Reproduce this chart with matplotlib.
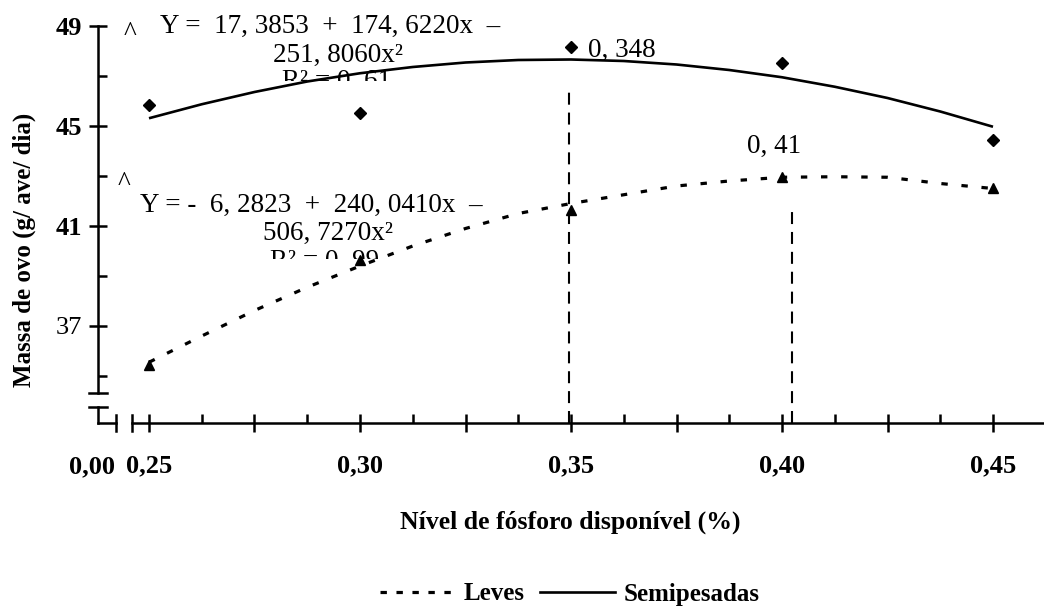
import numpy as np
import matplotlib
matplotlib.use('Agg')
import matplotlib.pyplot as plt
from matplotlib.lines import Line2D
from matplotlib.transforms import Bbox, TransformedBbox

# observed means
niveis = [0.25, 0.30, 0.35, 0.40, 0.45]
semipesadas = [45.84, 45.52, 48.16, 47.52, 44.44]
leves = [35.44, 39.64, 41.64, 42.96, 42.52]

# regression curves
x_curva = [0.25, 0.2625, 0.275, 0.2875, 0.30, 0.3125, 0.325, 0.3375, 0.35,
           0.3625, 0.375, 0.3875, 0.40, 0.4125, 0.425, 0.4375, 0.45]
curva_semi = [45.31, 45.87, 46.36, 46.78, 47.11, 47.36, 47.54, 47.64, 47.66,
              47.60, 47.46, 47.24, 46.95, 46.57, 46.12, 45.58, 44.97]
curva_leves = [35.55, 36.60, 37.62, 38.55, 39.40, 40.20, 40.90, 41.50, 41.90,
               42.25, 42.60, 42.80, 42.95, 42.97, 42.95, 42.70, 42.50]

# optimum levels (dashed markers)
otimo_x = [0.3495, 0.4024]
otimo_topo = [46.56, 41.64]

yticks_lab = [49, 45, 41, 37]

W, H = 1044, 607
serif = ['Liberation Serif', 'DejaVu Serif']
plt.rcParams['font.family'] = serif

fig = plt.figure(figsize=(W / 100, H / 100), dpi=100)
ax = fig.add_axes([98 / W, 1 - 423 / H, (W - 98) / W, 397 / H])
ax.set_xlim(0.25 - 51 / 4220, 0.25 + (W - 149) / 4220)
ax.set_ylim(33.12, 49)


def px(x, y):
    return x / W, 1 - y / H


ax.plot(x_curva, curva_semi, color='black', lw=1.9, solid_capstyle='butt')
ax.plot(x_curva, curva_leves, color='black', lw=2.3, linestyle=(0, (2, 4.3)))
ax.plot(niveis, semipesadas, linestyle='none', marker='D', ms=6.5, color='black')
ax.plot(niveis, leves, linestyle='none', marker='^', ms=7.5, color='black')
for xo, yt in zip(otimo_x, otimo_topo):
    ax.plot([xo, xo], [33.12, yt], color='black', lw=1.5, linestyle=(0, (5.75, 3.8)))

# axes with break
for s in ['top', 'right']:
    ax.spines[s].set_visible(False)
ax.spines['left'].set_bounds(34.32, 49)
ax.spines['bottom'].set_bounds(0.25 - 17 / 4220, ax.get_xlim()[1])
for s in ['left', 'bottom']:
    ax.spines[s].set_linewidth(1.8)

ax.set_yticks(yticks_lab)
ax.set_yticks([47, 43, 39, 35], minor=True)
xmaj = np.arange(0.25, 0.4501, 0.025)
ax.set_xticks(xmaj)
ax.set_xticks(np.arange(0.2625, 0.4501, 0.025), minor=True)
ax.set_xticklabels([('%.2f' % v).replace('.', ',') if round(v * 1000) % 50 == 0 else ''
                    for v in xmaj])
ax.tick_params(axis='both', which='major', direction='inout', length=13, width=1.8)
ax.tick_params(axis='both', which='minor', direction='in', length=6.5, width=1.8)
ax.tick_params(axis='y', which='major', pad=5, labelsize=19)
ax.tick_params(axis='x', which='major', pad=16, labelsize=19)
for lab in ax.get_xticklabels() + ax.get_yticklabels():
    lab.set_fontweight('bold')
ax.get_yticklabels()[-1].set_fontweight('normal')

deco = [((89, 393), (107, 393)), ((89, 407), (107, 407)), ((98, 407), (98, 423)),
        ((98, 423), (116, 423)), ((116, 415), (116, 431)), ((132, 415), (132, 431))]
for a, b in deco:
    p0, p1 = px(*a), px(*b)
    fig.add_artist(Line2D([p0[0], p1[0]], [p0[1], p1[1]], color='black', lw=1.8,
                          transform=fig.transFigure))

fig.text(*px(92, 473), '0,00', ha='center', va='baseline', fontsize=19, fontweight='bold')

# labels
fig.text(*px(570, 529), 'Nível de fósforo disponível (%)', ha='center', va='baseline',
         fontsize=18.5, fontweight='bold')
fig.text(*px(24, 250), 'Massa de ovo (g/ ave/ dia)', ha='center', va='center',
         rotation=90, fontsize=18, fontweight='bold')

# equations
eq = 19.5
fig.text(*px(124, 40), '^', fontsize=eq, va='baseline')
fig.text(*px(160, 33), 'Y =  17, 3853  +  174, 6220x  –', fontsize=eq, va='baseline')
fig.text(*px(273, 62), '251, 8060x²', fontsize=eq, va='baseline')
t1 = fig.text(*px(282, 88), 'R² = 0, 61', fontsize=eq, va='baseline')
t1.set_clip_box(TransformedBbox(Bbox([[0, 1 - 81 / H], [1, 1]]), fig.transFigure))
t1.set_clip_on(True)
fig.text(*px(588, 57), '0, 348', fontsize=eq, va='baseline')
fig.text(*px(747, 153), '0, 41', fontsize=eq, va='baseline')

fig.text(*px(118, 190), '^', fontsize=eq, va='baseline')
fig.text(*px(140, 212), 'Y = -  6, 2823  +  240, 0410x  –', fontsize=eq, va='baseline')
fig.text(*px(263, 240), '506, 7270x²', fontsize=eq, va='baseline')
t2 = fig.text(*px(270, 268), 'R² = 0, 99', fontsize=eq, va='baseline')
t2.set_clip_box(TransformedBbox(Bbox([[0, 1 - 259 / H], [1, 1]]), fig.transFigure))
t2.set_clip_on(True)

# legend
hl = [Line2D([], [], color='black', lw=2.3, linestyle=(0, (2, 3))),
      Line2D([], [], color='black', lw=1.9)]
fig.legend(hl, ['Leves', 'Semipesadas'], loc='center', bbox_to_anchor=px(570, 594),
           ncol=2, frameon=False, handlelength=3.0, handletextpad=0.35, columnspacing=0.6,
           prop={'family': serif, 'weight': 'bold', 'size': 18})

fig.savefig('out.png', dpi=100)
